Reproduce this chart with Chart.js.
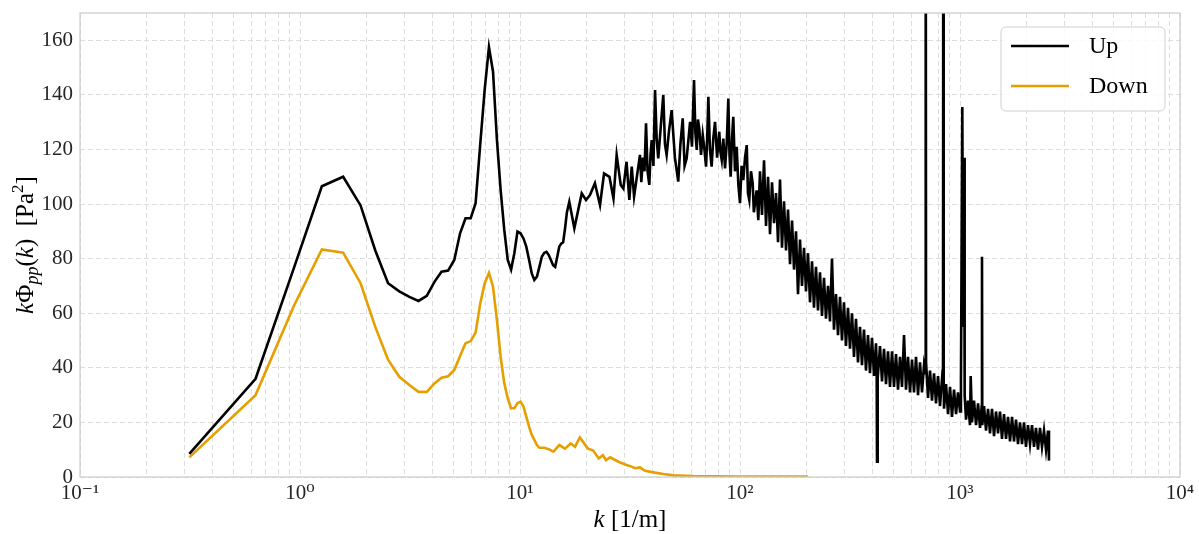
<!DOCTYPE html>
<html>
<head>
<meta charset="utf-8">
<script src="https://cdn.jsdelivr.net/npm/chart.js@4"></script>
<style>
  html, body { margin: 0; padding: 0; background: #fff; }
  #wrap { position: relative; width: 1199px; height: 534px; }
</style>
</head>
<body>
<div id="wrap"><canvas id="myChart"></canvas></div>
<script>
// wavenumber k [1/m] and k*Phi_pp [Pa^2]
const upK = [
  0.314, 0.628, 0.942, 1.257, 1.571, 1.885, 2.199, 2.513, 2.827, 3.142,
  3.456, 3.770, 4.084, 4.398, 4.712, 5.027, 5.341, 5.655, 5.969, 6.283,
  6.597, 6.912, 7.226, 7.540, 7.854, 8.168, 8.482, 8.796, 9.111, 9.425,
  9.739, 10.05, 10.37, 10.68, 11.00, 11.31, 11.62, 11.94, 12.25, 12.57,
  12.88, 13.19, 13.51, 13.82, 14.14, 14.45, 14.77, 15.08, 15.39, 15.71,
  16.02, 16.34, 16.75, 17.66, 19.08, 19.95, 20.8, 21.9, 23.1, 24.1,
  25.5, 26.6, 27.5, 28.7, 29.5, 30.5, 31.4, 32.2, 33.0, 35.1,
  35.6, 36.2, 36.8, 37.4, 38.0, 38.7, 39.2, 39.7, 40.4, 41.1,
  41.8, 42.5, 43.6, 44.8, 45.6, 46.4, 47.6, 48.9, 50.6, 52.4,
  53.6, 54.9, 56.0, 57.2, 58.2, 59.3, 60.5, 61.8, 62.7, 63.6,
  64.4, 65.3, 66.5, 67.7, 68.9, 70.1, 71.0, 71.8, 73.0, 74.3,
  75.6, 77.0, 78.7, 80.5, 81.5, 82.6, 84.0, 85.5, 87.0, 88.5,
  89.6, 90.7, 92.0, 93.2, 94.9, 96.6, 98.3, 100, 101.7, 103.5,
  105.4, 107.3, 108.7, 110.2, 112.2, 114.2, 115.6, 117.0, 119.0, 121.1,
  123.3, 125.9, 128.6, 131.3, 134.1, 136.9, 139.8, 142.8, 145.8, 148.9,
  152.0, 155.2, 158.5, 161.9, 165.3, 168.8, 172.4, 176.0, 179.7, 183.5,
  187.4, 191.3, 195.4, 199.5, 203.7, 208.1, 212.5, 216.9, 221.5, 226.2,
  231.0, 235.9, 240.9, 245.9, 251.2, 256.5, 261.9, 267.4, 273.1, 278.9,
  284.8, 290.8, 296.9, 303.2, 309.6, 316.2, 322.9, 329.7, 336.7, 343.8,
  351.1, 358.5, 366.1, 373.8, 381.8, 389.8, 398.1, 406.6, 415.1, 418,
  419.5, 421, 423.9, 432.9, 442.1, 451.4, 461.0, 470.7, 480.7, 490.9,
  501.2, 511.8, 522.7, 533.7, 545.0, 556.6, 568.3, 580.4, 592.7, 605.2,
  618.0, 631.0, 644.4, 658.0, 672.0, 686.2, 696, 698.4, 701, 715.5,
  730.7, 746.1, 761.9, 778.0, 794.5, 811.3, 828.4, 837, 839.8, 843,
  846.0, 864.1, 882.3, 901.0, 919.6, 939.6, 959.5, 979.3, 1000, 1010,
  1024.5, 1033, 1044, 1050, 1065, 1087, 1110, 1118.5, 1134, 1158,
  1183, 1208, 1233, 1255, 1258.9, 1263, 1286, 1313, 1341, 1369,
  1398, 1428, 1458, 1489, 1520, 1552, 1585, 1619, 1653, 1688,
  1724, 1760, 1797, 1835, 1874, 1914, 1954, 1995, 2037, 2081,
  2125, 2170, 2215, 2262, 2310, 2359, 2409, 2460, 2512, 2538
];
const upVal = [
  8.5, 36, 77, 106.5, 110, 99.5, 83, 71, 68, 66,
  64.5, 66.4, 71.5, 75.2, 75.6, 79.5, 89.3, 94.8, 94.8, 100.3,
  122, 142, 157.5, 148.5, 123.6, 105, 90.5, 79.5, 76, 82,
  89.9, 89.3, 87.4, 84.4, 79.5, 74.6, 72.2, 73.4, 77, 80.7,
  82.1, 82.5, 81.3, 79.5, 77.6, 77, 80.7, 84.4, 85.5, 86,
  91, 97, 100.8, 91.1, 103.9, 101.5, 103.3, 107.6, 99.6, 111.2,
  110, 102, 118, 107, 105.7, 115.5, 101.5, 113.7, 102.7, 118,
  108, 117, 112, 129.6, 112, 107, 118, 123.4, 114, 141.8,
  124, 116.7, 128, 140, 122, 118, 127, 134.4, 117, 108.2,
  122, 131.4, 114, 116.7, 123, 130.1, 121, 145.4, 126, 119.8,
  131, 127.7, 118, 125.3, 120, 113.7, 125, 139.3, 120, 113.7,
  124, 130.1, 117, 126.5, 119, 116.1, 124, 113.1, 122, 138.7,
  118, 110, 124, 132, 112, 121, 107, 100.3, 114, 108.8,
  117, 121.6, 104, 101.5, 112, 107.6, 97, 100.3, 105, 94.1,
  112, 96, 116, 92, 110, 89, 108, 93, 104, 86,
  109, 84, 101, 83, 98, 78, 94, 76, 90, 67,
  87, 70, 84, 68, 82, 64, 79, 62, 77, 61,
  75, 59, 73, 58, 70, 57, 80, 54, 67, 52,
  66, 50, 64, 48, 62, 47, 60, 44, 58, 42,
  55, 41, 54, 39, 52, 38, 51, 37, 49, 42,
  5.6, 44, 36, 48, 35, 47, 34, 46, 33, 46,
  33, 45, 32, 44, 33, 52, 32, 44, 31, 43,
  31, 44, 30, 42, 31, 41, 38, 260, 42, 29,
  39, 28, 38, 27, 37, 26, 36, 34, 260, 36,
  25, 34, 23, 33, 22, 32, 23, 31, 24, 35,
  135.6, 55, 117, 30, 21, 28, 19, 37, 20, 28,
  19, 27, 18, 26, 80.7, 19, 26, 17, 25, 16,
  25, 15, 24, 16, 24, 14, 23, 14, 22, 13,
  22, 13, 21, 12, 20, 12, 20, 11, 19, 12,
  19, 11, 18, 10, 18, 11, 17, 10, 17, 6
];
const downK = [
  0.314, 0.628, 0.942, 1.257, 1.571, 1.885, 2.199, 2.513, 2.827, 3.142,
  3.456, 3.770, 4.084, 4.398, 4.712, 5.027, 5.341, 5.655, 5.969, 6.283,
  6.597, 6.912, 7.226, 7.540, 7.854, 8.168, 8.482, 8.796, 9.111, 9.425,
  9.739, 10.05, 10.37, 10.68, 11.00, 11.31, 11.62, 11.94, 12.25, 12.88,
  13.5, 14.2, 15.1, 16.0, 17.0, 17.8, 18.7, 19.5, 20.3, 21.5,
  22.8, 23.8, 24.6, 25.7, 28.0, 30.5, 32.2, 33.3, 35.1, 37.0,
  41.1, 44.8, 49.8, 61.3, 80, 100, 150, 204
];
const downVal = [
  7.2, 30, 63, 83.4, 82.2, 71, 55, 43, 36.7, 33.7,
  31.2, 31.2, 34.3, 36.4, 36.9, 39.2, 44.3, 49, 49.8, 52.9,
  63.6, 71, 74.8, 69.7, 57.5, 44, 34.3, 28.8, 25.2, 25.2,
  27, 27.6, 25.8, 22.1, 18.4, 15.4, 13.6, 11.7, 10.7, 10.7,
  10.2, 9.3, 11.7, 10.4, 12.3, 11.1, 14.5, 12.5, 10.5, 9.7,
  6.8, 8.0, 6.2, 7.2, 5.6, 4.4, 3.8, 3.2, 3.5, 2.3,
  1.6, 1.1, 0.6, 0.35, 0.25, 0.2, 0.15, 0.15
];

const seriesNames = ["Up", "Down"];
const seriesColors = ["#000000", "#e69f00"];
const xDecades = [0.1, 1, 10, 100, 1000, 10000];
const xTickLabels = ["10⁻¹", "10⁰", "10¹", "10²", "10³", "10⁴"];
const yTicks = [0, 20, 40, 60, 80, 100, 120, 140, 160];

const serif = "'Liberation Serif', 'DejaVu Serif', serif";
const gridColor = "#dedede";
const textColor = "#262626";

// log grid: 1..9 in every decade
const xGrid = [];
xDecades.forEach((d, i) => {
  if (i === xDecades.length - 1) { xGrid.push(d); return; }
  for (let m = 1; m <= 9; m++) xGrid.push(d * m);
});

const toPoints = (ks, vs) => ks.map((k, i) => ({ x: k, y: vs[i] }));

// draw a row of text pieces with their own fonts, centered on (x, y)
function drawRuns(ctx, runs, x, y) {
  let total = 0;
  runs.forEach(r => { ctx.font = r.font; r.w = ctx.measureText(r.t).width; total += r.w; });
  let cx = x - total / 2;
  runs.forEach(r => { ctx.font = r.font; ctx.fillText(r.t, cx, y + (r.dy || 0)); cx += r.w; });
}

const decorations = {
  id: 'decorations',
  afterDraw(chart) {
    const { ctx, chartArea: a } = chart;
    ctx.save();
    // axes frame
    ctx.strokeStyle = "#cccccc";
    ctx.lineWidth = 1.25;
    ctx.strokeRect(a.left, a.top, a.right - a.left, a.bottom - a.top);

    // legend box
    const bx = 1001, by = 27, bw = 164, bh = 84;
    ctx.beginPath();
    ctx.roundRect(bx, by, bw, bh, 5);
    ctx.fillStyle = "rgba(255,255,255,0.85)";
    ctx.fill();
    ctx.strokeStyle = "#d0d0d0";
    ctx.lineWidth = 1;
    ctx.stroke();
    chart.data.datasets.forEach((ds, i) => {
      const ly = 46 + i * 40;
      ctx.beginPath();
      ctx.moveTo(1011, ly);
      ctx.lineTo(1069, ly);
      ctx.strokeStyle = ds.borderColor;
      ctx.lineWidth = 2.6;
      ctx.stroke();
      ctx.fillStyle = "#000";
      ctx.font = "24px " + serif;
      ctx.textBaseline = "middle";
      ctx.textAlign = "left";
      ctx.fillText(ds.label, 1089, ly + 1);
    });

    // axis titles
    ctx.fillStyle = "#000";
    ctx.textBaseline = "alphabetic";
    ctx.textAlign = "left";
    const it = "italic 25px " + serif, up = "25px " + serif;
    drawRuns(ctx, [
      { t: "k", font: it },
      { t: " [1/m]", font: up }
    ], (a.left + a.right) / 2, 527);

    ctx.translate(33, (a.top + a.bottom) / 2);
    ctx.rotate(-Math.PI / 2);
    drawRuns(ctx, [
      { t: "k", font: it },
      { t: "Φ", font: up },
      { t: "pp", font: "italic 18px " + serif, dy: 5 },
      { t: "(", font: up },
      { t: "k", font: it },
      { t: ")  [Pa", font: up },
      { t: "2", font: "17px " + serif, dy: -10 },
      { t: "]", font: up }
    ], 0, 0);
    ctx.restore();
  }
};

const myChart = document.querySelector("#myChart").getContext("2d");
const ourCanvas = new Chart(myChart, {
  type: "line",
  data: {
    datasets: [
      { label: seriesNames[0], data: toPoints(upK, upVal), borderColor: seriesColors[0] },
      { label: seriesNames[1], data: toPoints(downK, downVal), borderColor: seriesColors[1] }
    ].map(ds => Object.assign(ds, { borderWidth: 2.6, pointRadius: 0, tension: 0, fill: false }))
  },
  options: {
    responsive: true,
    maintainAspectRatio: false,
    animation: false,
    layout: { padding: { top: 13, right: 19, left: 0, bottom: 0 } },
    plugins: { legend: { display: false }, tooltip: { enabled: false } },
    scales: {
      x: {
        type: "logarithmic",
        min: 0.1,
        max: 10000,
        afterBuildTicks: scale => { scale.ticks = xGrid.map(v => ({ value: v })); },
        afterFit: scale => { scale.height = 57; scale.paddingLeft = 0; scale.paddingRight = 0; },
        ticks: {
          autoSkip: false,
          maxRotation: 0,
          padding: 4,
          color: textColor,
          font: { family: serif, size: 21 },
          callback: v => {
            const e = Math.log10(v);
            if (Math.abs(e - Math.round(e)) > 1e-6) return "";
            return xTickLabels[xDecades.findIndex(d => Math.abs(Math.log10(d) - e) < 1e-6)];
          }
        },
        grid: { color: gridColor, lineWidth: 1, drawTicks: false },
        border: { display: false, dash: [5, 3] }
      },
      y: {
        min: 0,
        max: 170,
        afterBuildTicks: scale => { scale.ticks = yTicks.map(v => ({ value: v })); },
        afterFit: scale => { scale.width = 80; scale.paddingTop = 0; scale.paddingBottom = 0; },
        ticks: {
          padding: 7,
          color: textColor,
          font: { family: serif, size: 21 }
        },
        grid: { color: gridColor, lineWidth: 1, drawTicks: false },
        border: { display: false, dash: [5, 3] }
      }
    }
  },
  plugins: [decorations]
});
</script>
</body>
</html>
